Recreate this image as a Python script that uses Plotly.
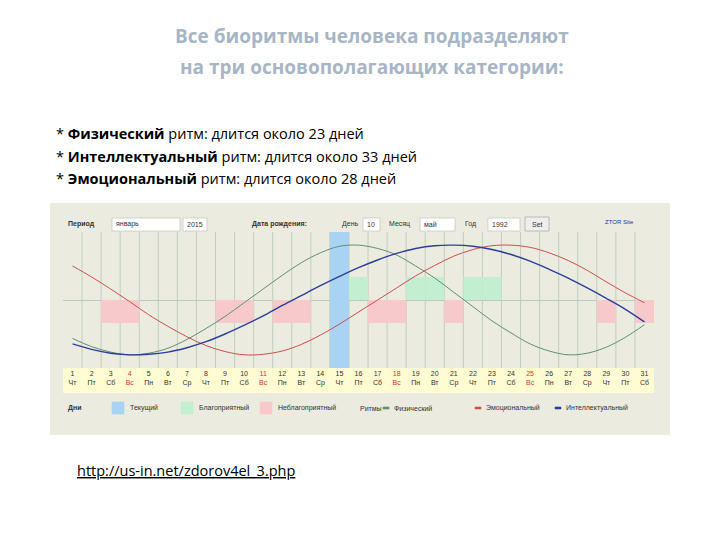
import plotly.graph_objects as go

days = list(range(1, 32))
weekdays = ["Чт","Пт","Сб","Вс","Пн","Вт","Ср"] * 5
weekdays = weekdays[:31]
physical = [-0.7,-0.85,-0.95,-1.0,-0.97,-0.88,-0.72,-0.52,-0.3,-0.05,0.2,0.45,0.68,0.86,0.98,1.0,0.94,0.82,0.62,0.4,0.14,-0.12,-0.38,-0.6,-0.8,-0.93,-1.0,-0.97,-0.86,-0.68,-0.45]
emotional = [0.62,0.42,0.2,-0.03,-0.27,-0.48,-0.67,-0.83,-0.94,-1.0,-0.99,-0.93,-0.81,-0.64,-0.44,-0.22,0.0,0.22,0.44,0.63,0.8,0.92,0.99,1.0,0.96,0.86,0.72,0.54,0.33,0.13,-0.05]
intellectual = [-0.8,-0.9,-0.97,-1.0,-0.99,-0.95,-0.87,-0.76,-0.62,-0.46,-0.29,-0.1,0.08,0.26,0.43,0.59,0.73,0.85,0.94,0.99,1.0,0.98,0.92,0.83,0.71,0.56,0.4,0.22,0.03,-0.17,-0.4]
good_days = [16,19,20,22,23]
bad_days = [3,4,9,10,12,13,17,18,21,29,31]
current_day = [15]
sundays = [4,11,18,25]

OFF = 8
YR = 1.24
fig = go.Figure()
fig.add_trace(go.Bar(x=current_day, y=[2*YR], base=[-YR], width=1, marker_color="#a9d3f2", marker_line_width=0))
fig.add_trace(go.Bar(x=good_days, y=[0.42]*len(good_days), base=[0]*len(good_days), width=1, marker_color="#c2efcf", marker_line_width=0))
fig.add_trace(go.Bar(x=bad_days, y=[0.42]*len(bad_days), base=[-0.42]*len(bad_days), width=1, marker_color="#f8c9cb", marker_line_width=0))
fig.add_trace(go.Scatter(x=days, y=physical, mode="lines", line=dict(color="#5f8f78", width=1, shape="spline")))
fig.add_trace(go.Scatter(x=days, y=emotional, mode="lines", line=dict(color="#c9504e", width=1, shape="spline")))
fig.add_trace(go.Scatter(x=days, y=intellectual, mode="lines", line=dict(color="#2c3f9c", width=1.4, shape="spline")))

ticktext = []
for d, w in zip(days, weekdays):
    c = "#d23a2a" if d in sundays else "#333"
    ticktext.append(f"<span style='color:{c}'>{d}<br>{w}</span>")

fig.update_layout(
    width=720, height=540, margin=dict(l=0, r=0, t=0, b=0),
    paper_bgcolor="white", plot_bgcolor="#dff4e6", showlegend=False, barmode="overlay",
    xaxis=dict(domain=[(63-OFF)/720, (654-OFF)/720], range=[0.5, 31.5], tickvals=days, ticktext=ticktext,
               tickfont=dict(size=7, family="Liberation Sans"), showgrid=False, zeroline=False, ticks=""),
    yaxis=dict(domain=[1-(368-OFF)/540, 1-(232-OFF)/540], range=[-YR, YR], showticklabels=False, showgrid=False,
               zeroline=True, zerolinecolor="#b8c9bd", zerolinewidth=1),
    font=dict(family="Liberation Sans"),
)
for d in range(1, 31):
    fig.add_shape(type="line", xref="x", yref="y", x0=d+0.5, x1=d+0.5, y0=-YR, y1=YR, line=dict(color="#b5c7ba", width=0.8), layer="below")

def px(x, y):
    return (x-OFF)/720, 1-(y-OFF)/540

shapes = [
    dict(x0=50, x1=670, y0=203, y1=435, fillcolor="#ecebdf"),
    dict(x0=63, x1=654, y0=368, y1=393, fillcolor="#fffbd2"),
]
for s in shapes:
    x0, y0 = px(s["x0"], s["y1"]); x1, y1 = px(s["x1"], s["y0"])
    fig.add_shape(type="rect", xref="paper", yref="paper", x0=x0, x1=x1, y0=y0, y1=y1,
                  fillcolor=s["fillcolor"], line_width=0, layer="below")

def text(x, y, t, size=8, color="#333", anchor="left", bold=False, family="Liberation Sans"):
    xx, yy = px(x, y)
    if bold:
        t = f"<b>{t}</b>"
    fig.add_annotation(xref="paper", yref="paper", x=xx, y=yy, text=t, showarrow=False,
                       xanchor=anchor, yanchor="middle", font=dict(size=size, color=color, family=family))

def box(x0, y0, x1, y1, color, line="#aaa"):
    a, b = px(x0, y1); c, d = px(x1, y0)
    fig.add_shape(type="rect", xref="paper", yref="paper", x0=a, x1=c, y0=b, y1=d,
                  fillcolor=color, line=dict(color=line, width=0.6))

for (x0, x1) in [(112, 180), (183, 207), (363, 380), (420, 455), (488, 520)]:
    box(x0, 218, x1, 231, "white", "#bbb")
text(66, 224, "Период", 7, bold=True)
text(114, 224, "январь", 7)
text(185, 224, "2015", 7)
text(250, 224, "Дата рождения:", 7, bold=True)
text(340, 224, "День", 7)
text(365, 224, "10", 7)
text(387, 224, "Месяц", 7)
text(422, 224, "май", 7)
text(463, 224, "Год", 7)
text(490, 224, "1992", 7)
box(525, 217, 549, 231, "#eee", "#999")
text(537, 224, "Set", 7, anchor="center")
text(603, 222, "ZTOR Site", 6, color="#2233aa")

text(66, 408, "Дни", 7, bold=True)
for x0, c, t in [(112, "#a9d3f2", "Текущий"), (181, "#c2efcf", "Благоприятный"), (260, "#f8c9cb", "Неблагоприятный")]:
    box(x0, 402, x0+12, 414, c, c)
    text(x0+16, 408, t, 7)
text(358, 408, "Ритмы", 7)
for x0, c, t in [(383, "#5f8f78", "Физический"), (475, "#c9504e", "Эмоциональный"), (555, "#2c3f9c", "Интеллектуальный")]:
    box(x0, 407, x0+6, 409, c, c)
    text(x0+9, 408, t, 7)

text(372, 36, "Все биоритмы человека подразделяют", 19, color="#a7b5c6", anchor="center", bold=True, family="Open Sans")
text(372, 67, "на три основополагающих категории:", 19, color="#a7b5c6", anchor="center", bold=True, family="Open Sans")
text(54, 133, "* <b>Физический</b> ритм: длится около 23 дней", 14.5, color="black", family="Open Sans")
text(54, 156, "* <b>Интеллектуальный</b> ритм: длится около 33 дней", 14.5, color="black", family="Open Sans")
text(54, 178, "* <b>Эмоциональный</b> ритм: длится около 28 дней", 14.5, color="black", family="Open Sans")
text(75, 470, "<u>http://us-in.net/zdorov4el_3.php</u>", 14.5, color="black", family="Open Sans")

fig.write_html("out.html")
